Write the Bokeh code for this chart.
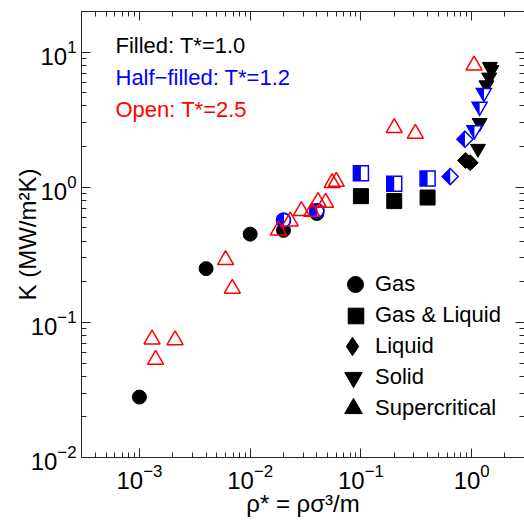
import math
from bokeh.plotting import figure
from bokeh.models import (LogAxis, FixedTicker, LogTickFormatter, CustomJSTickFormatter,
                          Label, Legend, LegendItem, Range1d)
from bokeh.embed import file_html
from bokeh.resources import INLINE

# ---------------- data ----------------
# Filled (black): T* = 1.0
filled_gas_x = [1.0e-3, 4.0e-3, 1.0e-2, 2.0e-2, 4.0e-2]
filled_gas_y = [0.028, 0.25, 0.45, 0.48, 0.64]
filled_gasliq_x = [0.1, 0.2, 0.4]
filled_gasliq_y = [0.86, 0.79, 0.84]
filled_liquid_x = [0.88, 0.97]
filled_liquid_y = [1.58, 1.52]
filled_solid_x = [1.14, 1.18, 1.36, 1.44, 1.51, 1.46]
filled_solid_y = [1.93, 3.0, 5.7, 6.5, 7.4, 7.8]

# Half-filled (blue): T* = 1.2
half_gas_x = [0.02, 0.04]
half_gas_y = [0.57, 0.67]
half_gasliq_x = [0.1, 0.2, 0.4]
half_gasliq_y = [1.27, 1.06, 1.16]
half_liquid_x = [0.64, 0.87]
half_liquid_y = [1.20, 2.27]
half_solid_x = [1.06, 1.18, 1.29]
half_solid_y = [2.65, 3.95, 5.0]

# Open (red): T* = 2.5
open_super_x = [1.3e-3, 2.1e-3, 1.4e-3, 6.0e-3, 6.9e-3, 0.018, 0.023, 0.029, 0.036,
                0.041, 0.048, 0.055, 0.060, 0.20, 0.31, 1.05]
open_super_y = [0.075, 0.074, 0.053, 0.29, 0.178, 0.48, 0.56, 0.67, 0.66,
                0.78, 0.77, 1.08, 1.10, 2.75, 2.5, 8.0]

# axis limits and ticks
x_lo, x_hi = 3e-4, 3.0
y_lo, y_hi = 1e-2, 20.0
x_major = [1e-4, 1e-3, 1e-2, 1e-1, 1e0]
y_major = [1e-2, 1e-1, 1e0, 1e1]
x_minor = [m * t for t in x_major for m in range(2, 10)]
y_minor = [m * t for t in y_major for m in range(2, 10)]

x_title = "\u03c1* = \u03c1\u03c3\u00b3/m"
y_title = "K (MW/m\u00b2K)"
legend_labels = ["Gas", "Gas & Liquid", "Liquid", "Solid", "Supercritical"]
note_texts = ["Filled: T*=1.0", "Half\u2212filled: T*=1.2", "Open: T*=2.5"]
note_colors = ["black", "blue", "red"]

# ---------------- layout ----------------
W, H = 524, 525
ML, MR, MT, MB = 81, 0, 11, 68
FW, FH = W - ML - MR, H - MT - MB
FONT = "Liberation Sans"
AX = "#262626"

p = figure(width=W, height=H, x_axis_type="log", y_axis_type="log",
           x_range=Range1d(x_lo, x_hi), y_range=Range1d(y_lo, y_hi),
           min_border_left=ML, min_border_right=MR, min_border_top=MT,
           min_border_bottom=MB, output_backend="svg", toolbar_location=None,
           background_fill_color="white", border_fill_color="white")
p.grid.visible = False
p.outline_line_color = None

xt = FixedTicker(ticks=x_major, minor_ticks=x_minor)
yt = FixedTicker(ticks=y_major, minor_ticks=y_minor)

def style(ax):
    ax.axis_line_color = AX
    ax.axis_line_width = 1
    ax.major_tick_in = 9
    ax.major_tick_out = 0
    ax.minor_tick_in = 5
    ax.minor_tick_out = 0
    ax.major_tick_line_color = AX
    ax.minor_tick_line_color = AX
    ax.major_label_text_font = FONT
    ax.major_label_text_font_size = "24px"
    ax.major_label_text_color = "black"
    ax.axis_label_text_font = FONT
    ax.axis_label_text_font_size = "24px"
    ax.axis_label_text_font_style = "normal"
    ax.axis_label_text_color = "black"

xa = p.xaxis[0]
ya = p.yaxis[0]
xa.ticker = xt
ya.ticker = yt
xa.formatter = LogTickFormatter()
ya.formatter = LogTickFormatter()
style(xa)
style(ya)
xa.major_label_standoff = 6
ya.major_label_standoff = 5
xa.axis_label = x_title
xa.axis_label_standoff = -2
ya.axis_label = y_title
ya.axis_label_standoff = -13

blank = CustomJSTickFormatter(code="return ''")
top = LogAxis(ticker=xt, formatter=blank)
right = LogAxis(ticker=yt, formatter=blank)
for ax in (top, right):
    style(ax)
    ax.major_label_standoff = 0
    ax.major_label_text_font_size = "1px"
right.axis_line_color = None
p.add_layout(top, "above")
p.add_layout(right, "right")

# pixel-per-decade, to build half-filled marker shapes around data points
ppd_x = FW / math.log10(x_hi / x_lo)
ppd_y = FH / math.log10(y_hi / y_lo)

def shapes(xs, ys, pts):
    px, py = [], []
    for x, y in zip(xs, ys):
        px.append([x * 10 ** (dx / ppd_x) for dx, dy in pts])
        py.append([y * 10 ** (dy / ppd_y) for dx, dy in pts])
    return px, py

BLUE, RED = "blue", "red"

# ---------------- filled (black) ----------------
p.scatter(filled_gas_x, filled_gas_y, marker="circle", size=14, color="black")
p.scatter(filled_gasliq_x, filled_gasliq_y, marker="square", size=15, color="black")
p.scatter(filled_liquid_x, filled_liquid_y, marker="square", angle=math.pi / 4, size=11.3, color="black")
p.scatter(filled_solid_x, filled_solid_y, marker="inverted_triangle", size=15, color="black")

# ---------------- half filled (blue) ----------------
p.scatter(half_gas_x, half_gas_y, marker="circle", size=14, fill_color="white",
          line_color=BLUE, line_width=1.5)
p.wedge(half_gas_x, half_gas_y, radius=7, radius_units="screen",
        start_angle=math.pi / 2, end_angle=3 * math.pi / 2, color=BLUE)
p.scatter(half_gas_x, half_gas_y, marker="circle", size=14, fill_color=None,
          line_color=BLUE, line_width=1.5)

s = 7.5
sq_full = [(-s, -s), (s, -s), (s, s), (-s, s)]
sq_half = [(-s, -s), (0, -s), (0, s), (-s, s)]
d = 8.0
di_full = [(0, d), (d, 0), (0, -d), (-d, 0)]
di_half = [(0, d), (-d, 0), (0, -d)]
r = 7.5
h = r * math.sqrt(3)
a = h / 3
tr_full = [(-r, a), (r, a), (0, -2 * h / 3)]
tr_half = [(-r, a), (0, a), (0, -2 * h / 3)]

for xs, ys, full, half in ((half_gasliq_x, half_gasliq_y, sq_full, sq_half),
                           (half_liquid_x, half_liquid_y, di_full, di_half),
                           (half_solid_x, half_solid_y, tr_full, tr_half)):
    fx, fy = shapes(xs, ys, full)
    hx, hy = shapes(xs, ys, half)
    p.patches(fx, fy, fill_color="white", line_color=None)
    p.patches(hx, hy, fill_color=BLUE, line_color=None)
    p.patches(fx, fy, fill_color=None, line_color=BLUE, line_width=1.5,
              line_join="miter")

# ---------------- open (red) ----------------
p.scatter(open_super_x, open_super_y, marker="triangle", size=16, fill_color=None,
          line_color=RED, line_width=1.5)

# ---------------- legend (one Legend per entry so each row can be placed) ----------------
NAN = float("nan")
legend_markers = ["circle", "square", "diamond", "inverted_triangle", "triangle"]
legend_box = [40, 39, 46, 44, 44]        # glyph box -> marker size = 0.4 * box
text_x = 375                              # canvas px where the labels start
row0, pitch = 457 - 284, 31               # first row centre above frame bottom
for i, (mk, g, lab) in enumerate(zip(legend_markers, legend_box, legend_labels)):
    rr = p.scatter([NAN], [NAN], marker=mk, color="black")
    lgd = Legend(items=[LegendItem(label=lab, renderers=[rr], index=0)],
                 location=(text_x - g - ML, row0 - pitch * i - g / 2),
                 padding=0, margin=0, spacing=0,
                 glyph_width=g, glyph_height=g, label_height=g, label_standoff=0,
                 label_text_font=FONT, label_text_font_size="22px",
                 label_text_color="black", border_line_color=None,
                 background_fill_alpha=0)
    p.add_layout(lgd)

# ---------------- notes ----------------
for i, (t, c) in enumerate(zip(note_texts, note_colors)):
    p.add_layout(Label(x=34, y=412 - 32 * i, x_units="screen", y_units="screen",
                       text=t, text_color=c, text_font=FONT, text_font_size="22px",
                       text_baseline="middle"))

open("out.html", "w").write(file_html(p, INLINE))
